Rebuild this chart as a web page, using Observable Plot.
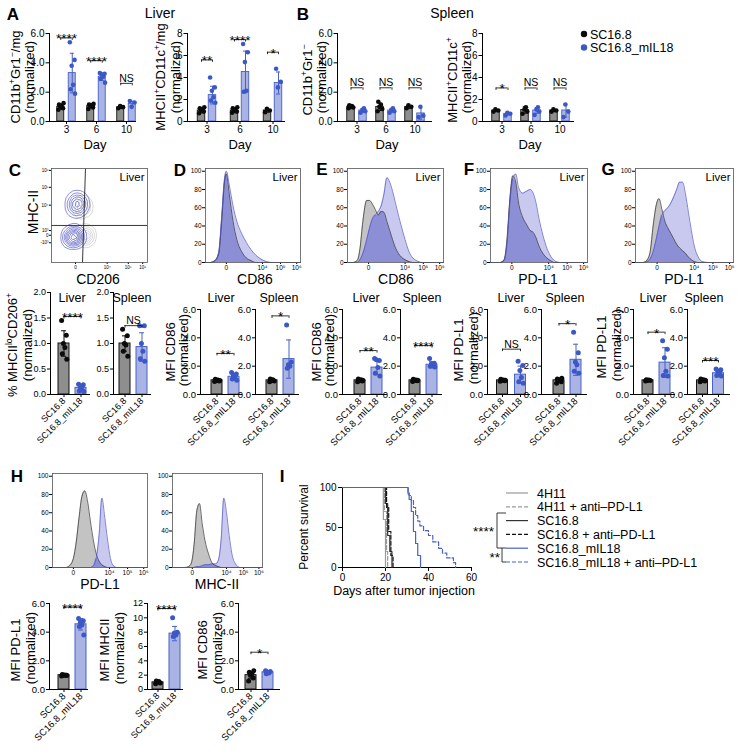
<!DOCTYPE html>
<html>
<head>
<meta charset="utf-8">
<script src="https://cdn.jsdelivr.net/npm/d3@7"></script>
<script src="https://cdn.jsdelivr.net/npm/@observablehq/plot@0.6"></script>
<style>
html,body{margin:0;padding:0;background:#fff;}
#fig{position:relative;width:741px;height:755px;overflow:hidden;background:#fff;font-family:"Liberation Sans",Arial,Helvetica,sans-serif;color:#000;}
#fig .lab{position:absolute;white-space:nowrap;line-height:1;text-align:center;}
#fig sup{font-size:66%;vertical-align:0.55em;line-height:0;}
#fig svg{display:block;max-width:none;}
</style>
</head>
<body>
<div id="fig"></div>
<script>
// ===================== DATA =====================
const groups = ["SC16.8", "SC16.8_mIL18"];
const days = [3, 6, 10];

// A – liver, CD11b+Gr1−/mg (normalized)
const aMyeCtrlMean = [1.0, 1.05, 0.97];
const aMyeCtrlSd = [0.15, 0.12, 0.08];
const aMyeCtrlPts = [[0.8, 0.9, 1.0, 1.05, 1.15, 1.25], [0.85, 0.95, 1.05, 1.1, 1.15, 1.2], [0.9, 0.98, 1.05]];
const aMyeMilMean = [3.3, 3.05, 1.2];
const aMyeMilSd = [1.35, 0.25, 0.18];
const aMyeMilPts = [[5.4, 4.2, 3.8, 2.5, 2.2, 1.9], [3.3, 3.25, 3.2, 3.05, 2.9, 2.65], [1.4, 1.3, 1.0]];
const aMyeSig = ["****", "****", "NS"];
const aMyeSigY = [5.7, 4.15, 2.6];

// A – liver, MHCII+CD11c+/mg (normalized)
const aApcCtrlMean = [1.0, 1.0, 1.0];
const aApcCtrlSd = [0.2, 0.2, 0.15];
const aApcCtrlPts = [[0.75, 0.9, 1.0, 1.1, 1.2, 1.3], [0.8, 0.9, 1.0, 1.1, 1.2, 1.3], [0.85, 1.0, 1.15]];
const aApcMilMean = [2.4, 4.5, 3.5];
const aApcMilSd = [0.8, 1.9, 1.0];
const aApcMilPts = [[4.0, 3.1, 2.8, 2.2, 1.9, 1.7], [7.05, 6.3, 5.4, 2.8, 2.7], [4.8, 3.6, 3.1]];
const aApcSig = ["**", "****", "*"];
const aApcSigY = [5.6, 7.45, 6.3];

// B – spleen, CD11b+Gr1− (normalized)
const bMyeCtrlMean = [1.0, 1.0, 1.0];
const bMyeCtrlSd = [0.1, 0.25, 0.1];
const bMyeCtrlPts = [[0.9, 0.95, 1.0, 1.05, 1.1], [0.7, 0.85, 1.0, 1.15, 1.35], [0.9, 1.0, 1.1]];
const bMyeMilMean = [0.75, 0.75, 0.55];
const bMyeMilSd = [0.12, 0.12, 0.4];
const bMyeMilPts = [[0.6, 0.7, 0.8, 0.9], [0.6, 0.7, 0.8, 0.9], [0.3, 0.4, 1.0]];
const bMyeSig = ["NS", "NS", "NS"];
const bMyeSigY = [2.3, 2.3, 2.3];

// B – spleen, MHCII+CD11c+ (normalized)
const bApcCtrlMean = [1.0, 1.05, 1.0];
const bApcCtrlSd = [0.1, 0.3, 0.1];
const bApcCtrlPts = [[0.9, 1.0, 1.1], [0.7, 0.9, 1.1, 1.3], [0.9, 1.0, 1.1]];
const bApcMilMean = [0.7, 1.0, 1.0];
const bApcMilSd = [0.1, 0.25, 0.6];
const bApcMilPts = [[0.55, 0.7, 0.8], [0.6, 0.9, 1.1, 1.3], [0.4, 0.9, 1.55]];
const bApcSig = ["*", "NS", "NS"];
const bApcSigY = [3.05, 3.05, 3.05];

// C–H two-group bar charts: points, [ctrl, mIL18] means and SDs
const cLiverCtrl = [1.45, 1.16, 1.0, 0.92, 0.8, 0.69];
const cLiverMil = [0.2, 0.19, 0.13, 0.1, 0.07, 0.06];
const cLiverMean = [1.0, 0.13], cLiverSd = [0.25, 0.05];
const cSpleenCtrl = [1.28, 1.15, 1.0, 0.97, 0.85, 0.75];
const cSpleenMil = [1.35, 1.35, 1.0, 0.85, 0.7, 0.65];
const cSpleenMean = [1.0, 0.93], cSpleenSd = [0.15, 0.28];

const dLiverCtrl = [0.92, 0.96, 1.0, 1.03, 1.08, 0.98];
const dLiverMil = [1.55, 1.45, 1.3, 1.2, 1.1, 1.0];
const dLiverMean = [1.0, 1.25], dLiverSd = [0.06, 0.2];
const dSpleenCtrl = [0.9, 0.95, 1.0, 1.05, 1.1];
const dSpleenMil = [4.9, 2.3, 2.1, 2.0, 1.85];
const dSpleenMean = [1.0, 2.5], dSpleenSd = [0.07, 1.35];

const eLiverCtrl = [0.9, 0.95, 1.0, 1.05, 1.1, 1.0];
const eLiverMil = [2.55, 2.4, 2.45, 1.9, 1.5, 1.3];
const eLiverMean = [1.0, 1.9], eLiverSd = [0.07, 0.5];
const eSpleenCtrl = [0.92, 0.97, 1.0, 1.03, 1.08, 1.0];
const eSpleenMil = [2.55, 2.2, 2.15, 2.05, 2.0, 1.95];
const eSpleenMean = [1.0, 2.1], eSpleenSd = [0.06, 0.22];

const fLiverCtrl = [0.93, 0.97, 1.0, 1.03, 1.07, 1.0];
const fLiverMil = [2.35, 2.05, 1.7, 1.2, 0.9, 0.8];
const fLiverMean = [1.0, 1.4], fLiverSd = [0.06, 0.6];
const fSpleenCtrl = [0.8, 0.9, 1.0, 1.05, 1.1, 1.15];
const fSpleenMil = [4.4, 2.95, 2.3, 2.1, 1.65, 1.5];
const fSpleenMean = [1.0, 2.45], fSpleenSd = [0.12, 1.1];

const gLiverCtrl = [0.95, 0.98, 1.0, 1.02, 1.05];
const gLiverMil = [3.8, 3.2, 2.6, 1.65, 1.35, 1.3];
const gLiverMean = [1.0, 2.25], gLiverSd = [0.04, 1.05];
const gSpleenCtrl = [0.9, 0.95, 1.0, 1.05, 1.1, 1.0];
const gSpleenMil = [1.8, 1.75, 1.65, 1.5, 1.35, 1.3];
const gSpleenMean = [1.0, 1.5], gSpleenSd = [0.07, 0.17];

const hPdl1Ctrl = [0.95, 0.98, 1.0, 1.02, 1.05, 1.0];
const hPdl1Mil = [4.95, 4.8, 4.7, 4.5, 4.4, 3.8];
const hPdl1Mean = [1.0, 4.55], hPdl1Sd = [0.04, 0.4];
const hMhcCtrl = [0.8, 0.9, 1.0, 1.1, 1.2];
const hMhcMil = [10.0, 8.0, 7.9, 7.6, 7.4];
const hMhcMean = [1.0, 7.8], hMhcSd = [0.15, 1.0];
const hCd86Ctrl = [0.6, 0.8, 1.0, 1.1, 1.2, 1.3];
const hCd86Mil = [1.3, 1.25, 1.2, 1.15, 1.1];
const hCd86Mean = [1.0, 1.2], hCd86Sd = [0.22, 0.08];

// Flow histograms (% of max) on display channel position 0–100
const flowTickPos = [22, 60, 79, 96];
const flowTickLab = ["0", "10\u2074", "10\u2075", "10\u2076"];
const histYTicks = [0, 20, 40, 60, 80, 100];

const dHistX = [0, 5, 10, 14, 17, 20, 22, 25, 29, 33, 38, 43, 48, 53, 58, 64, 70, 80, 100];
const dHistCtrl = [0, 0, 2, 10, 45, 88, 97, 75, 45, 25, 12, 5, 2, 0, 0, 0, 0, 0, 0];
const dHistMil = [0, 0, 2, 12, 50, 92, 100, 85, 62, 45, 32, 22, 14, 8, 4, 1, 0, 0, 0];

const eHistX = [0, 5, 10, 13, 16, 20, 23, 26, 29, 32, 35, 38, 41, 44, 47, 50, 53, 56, 60, 64, 68, 72, 78, 100];
const eHistCtrl = [0, 0, 2, 15, 45, 68, 68, 64, 58, 52, 56, 55, 45, 35, 25, 16, 10, 6, 3, 1, 0, 0, 0, 0];
const eHistMil = [0, 0, 0, 3, 10, 25, 38, 48, 52, 56, 62, 75, 93, 88, 78, 65, 52, 40, 25, 12, 5, 2, 0, 0];

const fHistX = [0, 10, 14, 17, 20, 23, 26, 29, 33, 37, 41, 44, 47, 50, 54, 58, 62, 66, 72, 100];
const fHistCtrl = [0, 0, 3, 25, 70, 95, 88, 65, 50, 42, 35, 33, 27, 18, 10, 5, 2, 0, 0, 0];
const fHistMil = [0, 0, 2, 20, 65, 92, 97, 82, 76, 78, 80, 76, 65, 48, 30, 16, 7, 2, 0, 0];

const gHistX = [0, 8, 12, 15, 18, 21, 24, 27, 30, 33, 36, 39, 42, 45, 48, 51, 54, 57, 60, 64, 68, 74, 100];
const gHistCtrl = [0, 0, 3, 12, 40, 62, 70, 58, 45, 38, 32, 26, 20, 16, 13, 10, 6, 3, 1, 0, 0, 0, 0];
const gHistMil = [0, 0, 1, 4, 12, 25, 40, 52, 57, 60, 65, 72, 80, 88, 88, 75, 55, 35, 18, 6, 1, 0, 0];

const hPdl1HistX = [0, 14, 18, 22, 25, 28, 31, 34, 37, 40, 43, 46, 49, 52, 55, 58, 61, 64, 68, 100];
const hPdl1HistCtrl = [0, 0, 2, 10, 28, 55, 78, 84, 72, 50, 30, 15, 7, 3, 1, 0, 0, 0, 0, 0];
const hPdl1HistMil = [0, 0, 0, 0, 0, 0, 0, 0, 0, 0, 2, 10, 35, 76, 55, 30, 10, 2, 0, 0];

const hMhcHistX = [0, 14, 18, 21, 24, 27, 30, 33, 36, 40, 44, 48, 51, 54, 57, 60, 63, 66, 70, 75, 100];
const hMhcHistCtrl = [0, 0, 1, 5, 25, 62, 70, 48, 30, 15, 5, 2, 1, 0, 0, 0, 0, 0, 0, 0, 0];
const hMhcHistMil = [0, 0, 0, 0, 0, 1, 1, 2, 3, 3, 4, 4, 8, 30, 76, 60, 35, 15, 4, 0, 0];

// C – MHC-II vs CD206 events (display units 0–100)
const cCellsMil = [[23,27],[21,26],[25,28],[22,29],[24,25],[20,27],[26,26],[23,24],[22,31],[24,30],[19,26],[27,29],[23,28],[21,24],[25,31],[23,26],[22,27],[24,27],
  [24,55],[26,58],[25,62],[27,65],[29,62],[24,68],[26,70],[31,60],[28,57],[23,62],[25,52],[33,63],[27,67],[29,66],[24,60],[26,64]];
const cCellsCtrl = [[33,28],[35,30],[37,27],[34,25],[36,32],[31,60],[35,58],[33,64],[30,54]];
const cGateY = 39.4;
const cGateV = [{x1: 32.3, y1: 0, x2: 35.4, y2: 100}];
const cXTickPos = [25, 58, 80, 95];
const cXTickLab = ["0", "10\u2074", "10\u2075", "10\u2076"];
const cYTickPos = [21, 29, 34, 61, 80, 98];
const cYTickLab = ["-10\u00b3", "0", "10\u00b3", "10\u2074", "10\u2075", "10\u2076"];

// I – Kaplan–Meier survival [day, percent]
const kmNames = ["4H11", "4H11 + anti\u2013PD-L1", "SC16.8", "SC16.8 + anti\u2013PD-L1", "SC16.8_mIL18", "SC16.8_mIL18 + anti\u2013PD-L1"];
const km4h11 = [[0, 100], [19, 60], [20, 0]];
const km4h11Anti = [[0, 100], [19.5, 70], [20.5, 20], [21, 0]];
const kmSc168 = [[0, 100], [20, 80], [21, 40], [22, 20], [23, 0]];
const kmSc168Anti = [[0, 100], [20.5, 75], [21.5, 45], [22.5, 15], [23.5, 0]];
const kmMil = [[0, 100], [30.5, 92], [31, 85], [32, 70], [33, 45], [34, 30], [35, 15], [36.3, 0]];
const kmMilAnti = [[0, 100], [30.5, 94], [31, 90], [32, 84], [33, 75], [34, 65], [35, 58], [36, 52], [37.7, 46], [40, 40], [42, 32], [44.7, 24], [46.5, 18], [48.5, 12], [51.6, 6], [52.6, 0]];

// ===================== RENDER =====================
const FONT = '"Liberation Sans", Arial, Helvetica, sans-serif';
const CTRL = {fill: "#8e8e8e", line: "#111111", dot: "#0b0b0b"};
const MIL = {fill: "#a9b3e4", line: "#4862c6", dot: "#3c58c6"};
const JIT = [-2.4, 2.3, -0.6, 0.9, -1.7, 2.8, 0.2, -3.0];
const fig = document.getElementById("fig");

function style(fs) {
  return {fontFamily: FONT, fontSize: fs + "px", background: "transparent", overflow: "visible", color: "#000", maxWidth: "none"};
}
function mount(svg, left, top, w) {
  const d = document.createElement("div");
  d.style.cssText = `position:absolute;left:${left}px;top:${top}px;width:${w}px;`;
  d.appendChild(svg);
  fig.appendChild(d);
}
function lab(html, x, y, size = 13, opt = {}) {
  const d = document.createElement("div");
  d.className = "lab";
  d.innerHTML = html;
  d.style.left = x + "px";
  d.style.top = y + "px";
  d.style.fontSize = size + "px";
  if (opt.bold) d.style.fontWeight = "bold";
  d.style.transform = "translate(-50%,-50%)" + (opt.rot ? " rotate(-90deg)" : "");
  fig.appendChild(d);
}
function errMarks(rows, key, dx, cap, bw, col) {
  const ci = (bw - cap) / 2;
  return [
    Plot.ruleX(rows, {x: key, y1: d => d.mean - d.sd, y2: d => d.mean + d.sd, dx, stroke: col, strokeWidth: 1}),
    Plot.tickY(rows, {x: key, y: d => d.mean + d.sd, dx, insetLeft: ci, insetRight: ci, stroke: col, strokeWidth: 1}),
    Plot.tickY(rows, {x: key, y: d => d.mean - d.sd, dx, insetLeft: ci, insetRight: ci, stroke: col, strokeWidth: 1})
  ];
}
function dotMarks(rows, key, dx, col, r) {
  const ks = [...new Set(rows.map(d => d.k))];
  return ks.map(k => Plot.dot(rows.filter(d => d.k === k), {x: key, y: "v", dx: dx + JIT[k % JIT.length], r, fill: col, stroke: "none"}));
}
function sigMarks(rows, key, dx) {
  const stars = rows.filter(d => d.t !== "NS"), ns = rows.filter(d => d.t === "NS");
  return [
    Plot.text(stars, {x: key, y: "y", text: "t", dx, dy: 5.5, lineAnchor: "bottom", fontSize: 13.5}),
    Plot.text(ns, {x: key, y: "y", text: "t", dx, dy: -1.5, lineAnchor: "bottom", fontSize: 10.5})
  ];
}

function dayChart(c) {
  const mL = 30, mR = 3, mT = 8, mB = 20;
  const left = c.x0 - mL, top = c.yTop - mT;
  const W = mL + (c.xEnd - c.x0) + mR, H = mT + (c.y0 - c.yTop) + mB;
  const start = c.center0 - c.step / 2 - left;
  const range = [start, start + c.step * days.length];
  const ins = (c.step - c.barW) / 2;
  const cb = days.map((day, i) => ({day, mean: c.ctrlMean[i], sd: c.ctrlSd[i]}));
  const mb = days.map((day, i) => ({day, mean: c.milMean[i], sd: c.milSd[i]}));
  const cp = days.flatMap((day, i) => c.ctrlPts[i].map((v, k) => ({day, v, k})));
  const mp = days.flatMap((day, i) => c.milPts[i].map((v, k) => ({day, v, k})));
  const sg = days.map((day, i) => ({day, y: c.sigY[i], t: c.sig[i]}));
  const bi = c.step / 2 - c.off;
  const svg = Plot.plot({
    width: W, height: H, marginLeft: mL, marginRight: mR, marginTop: mT, marginBottom: mB,
    style: style(10),
    x: {type: "band", domain: days, range, padding: 0, label: null, tickSize: 3, tickPadding: 1},
    y: {domain: [0, c.yMax], ticks: c.ticks, label: null, tickSize: 3.5, tickPadding: 1.5, line: true},
    marks: [
      Plot.barY(cb, {x: "day", y: "mean", dx: -c.off, insetLeft: ins, insetRight: ins, fill: CTRL.fill, stroke: CTRL.line, strokeWidth: 0.9}),
      Plot.barY(mb, {x: "day", y: "mean", dx: c.off, insetLeft: ins, insetRight: ins, fill: MIL.fill, stroke: MIL.line, strokeWidth: 0.9}),
      ...errMarks(cb, "day", -c.off, 4, c.step, CTRL.line),
      ...errMarks(mb, "day", c.off, 4, c.step, MIL.line),
      ...dotMarks(cp, "day", -c.off, CTRL.dot, 2.3),
      ...dotMarks(mp, "day", c.off, MIL.dot, 2.3),
      Plot.ruleY([0], {stroke: "#000", strokeWidth: 1}),
      Plot.tickY(sg, {x: "day", y: "y", insetLeft: bi, insetRight: bi, stroke: "#000", strokeWidth: 0.8}),
      Plot.ruleX(sg, {x: "day", y1: "y", y2: "y", dx: -c.off, insetBottom: -2.5, stroke: "#000", strokeWidth: 0.8}),
      Plot.ruleX(sg, {x: "day", y1: "y", y2: "y", dx: c.off, insetBottom: -2.5, stroke: "#000", strokeWidth: 0.8}),
      ...sigMarks(sg, "day", 0)
    ]
  });
  mount(svg, left, top, W);
}

function pairChart(c) {
  const mL = 30, mR = 3, mT = 8, mB = 62;
  const left = c.x0 - mL, top = c.yTop - mT;
  const W = mL + (c.xEnd - c.x0) + mR, H = mT + (c.y0 - c.yTop) + mB;
  const s = c.c2 - c.c1;
  const range = [c.c1 - s / 2 - left, c.c2 + s / 2 - left];
  const ins = (s - c.barW) / 2;
  const cb = [{g: groups[0], mean: c.mean[0], sd: c.sd[0]}];
  const mb = [{g: groups[1], mean: c.mean[1], sd: c.sd[1]}];
  const cp = c.ctrl.map((v, k) => ({g: groups[0], v, k}));
  const mp = c.mil.map((v, k) => ({g: groups[1], v, k}));
  const sg = [{g0: groups[0], g1: groups[1], y: c.sigY, t: c.sig}];
  const svg = Plot.plot({
    width: W, height: H, marginLeft: mL, marginRight: mR, marginTop: mT, marginBottom: mB,
    style: style(c.fs || 9.5),
    x: {type: "band", domain: groups, range, padding: 0, label: null, tickSize: 3, tickPadding: 2, tickRotate: -45},
    y: {domain: [0, c.yMax], ticks: c.ticks, tickFormat: c.fmt, label: null, tickSize: 3, tickPadding: 1.5, line: true},
    marks: [
      Plot.barY(cb, {x: "g", y: "mean", insetLeft: ins, insetRight: ins, fill: CTRL.fill, stroke: CTRL.line, strokeWidth: 1}),
      Plot.barY(mb, {x: "g", y: "mean", insetLeft: ins, insetRight: ins, fill: MIL.fill, stroke: MIL.line, strokeWidth: 1}),
      ...errMarks(cb, "g", 0, 5, s, CTRL.line),
      ...errMarks(mb, "g", 0, 5, s, MIL.line),
      ...dotMarks(cp, "g", 0, CTRL.dot, 2.5),
      ...dotMarks(mp, "g", 0, MIL.dot, 2.5),
      Plot.ruleY([0], {stroke: "#000", strokeWidth: 1}),
      Plot.tickY(sg, {x: "g0", y: "y", insetLeft: s / 2, insetRight: 0, stroke: "#000", strokeWidth: 0.8}),
      Plot.tickY(sg, {x: "g1", y: "y", insetLeft: 0, insetRight: s / 2, stroke: "#000", strokeWidth: 0.8}),
      Plot.ruleX(sg, {x: "g0", y1: "y", y2: "y", insetBottom: -2.5, stroke: "#000", strokeWidth: 0.8}),
      Plot.ruleX(sg, {x: "g1", y1: "y", y2: "y", insetBottom: -2.5, stroke: "#000", strokeWidth: 0.8}),
      ...sigMarks(sg, "g1", -s / 2)
    ]
  });
  mount(svg, left, top, W);
}

function histChart(c) {
  const mL = 20, mR = 2, mT = 2, mB = 14;
  const left = c.fx0 - mL, top = c.fy0 - mT;
  const W = mL + (c.fx1 - c.fx0) + mR, H = mT + (c.fy1 - c.fy0) + mB;
  const rows = c.xs.map((x, i) => ({x, a: c.ctrl[i], b: c.mil[i], m: Math.min(c.ctrl[i], c.mil[i])}));
  const curve = "monotone-x";
  const labMap = new Map(flowTickPos.map((p, i) => [p, flowTickLab[i]]));
  const marks = [
    Plot.areaY(rows, {x: "x", y: "a", fill: "#c3c3c3", curve}),
    Plot.areaY(rows, {x: "x", y: "b", fill: "#c9c9ef", curve}),
    Plot.areaY(rows, {x: "x", y: "m", fill: "#8d8fd6", curve}),
    Plot.lineY(rows, {x: "x", y: "a", stroke: "#2b2b2b", strokeWidth: 0.7, curve}),
    Plot.lineY(rows, {x: "x", y: "b", stroke: "#4e52be", strokeWidth: 0.7, curve}),
    Plot.frame({stroke: "#555", strokeWidth: 0.8})
  ];
  if (c.tissue) marks.push(Plot.text([c.tissue], {text: d => d, frameAnchor: "top-right", dx: -3, dy: 4, fontSize: 11.5, lineAnchor: "top"}));
  const svg = Plot.plot({
    width: W, height: H, marginLeft: mL, marginRight: mR, marginTop: mT, marginBottom: mB,
    style: style(6.5),
    x: {domain: [0, 100], ticks: flowTickPos, tickFormat: d => labMap.get(d), label: null, tickSize: 2, tickPadding: 1},
    y: {domain: [0, 103], ticks: histYTicks, label: null, tickSize: 3, tickPadding: 1},
    marks
  });
  mount(svg, left, top, W);
}

function contourChart() {
  const fx0 = 51, fx1 = 147, fy0 = 168, fy1 = 262;
  const mL = 18, mR = 2, mT = 2, mB = 10;
  const left = fx0 - mL, top = fy0 - mT;
  const W = mL + (fx1 - fx0) + mR, H = mT + (fy1 - fy0) + mB;
  const xm = new Map(cXTickPos.map((p, i) => [p, cXTickLab[i]]));
  const ym = new Map(cYTickPos.map((p, i) => [p, cYTickLab[i]]));
  const svg = Plot.plot({
    width: W, height: H, marginLeft: mL, marginRight: mR, marginTop: mT, marginBottom: mB,
    style: style(4.5),
    x: {domain: [0, 100], ticks: cXTickPos, tickFormat: d => xm.get(d), label: null, tickSize: 2, tickPadding: 1},
    y: {domain: [0, 100], ticks: cYTickPos, tickFormat: d => ym.get(d), label: null, tickSize: 2, tickPadding: 1},
    marks: [
      Plot.density(cCellsCtrl, {x: d => d[0], y: d => d[1], bandwidth: 4, thresholds: 6, stroke: "#c0c0c0", strokeWidth: 0.6}),
      Plot.density(cCellsMil, {x: d => d[0], y: d => d[1], bandwidth: 4, thresholds: 9, stroke: "#5f63c8", strokeWidth: 0.7}),
      Plot.ruleY([cGateY], {stroke: "#222", strokeWidth: 0.9}),
      Plot.link(cGateV, {x1: "x1", y1: "y1", x2: "x2", y2: "y2", stroke: "#222", strokeWidth: 0.9}),
      Plot.frame({stroke: "#555", strokeWidth: 0.8}),
      Plot.text(["Liver"], {text: d => d, frameAnchor: "top-right", dx: -3, dy: 4, fontSize: 11.5, lineAnchor: "top"})
    ]
  });
  mount(svg, left, top, W);
}

function kmChart() {
  const x0 = 342, xEnd = 471, y0 = 567, yTop = 487;
  const mL = 28, mR = 6, mT = 4, mB = 18;
  const left = x0 - mL, top = yTop - mT;
  const W = mL + (xEnd - x0) + mR, H = mT + (y0 - yTop) + mB;
  const series = [km4h11, km4h11Anti, kmSc168, kmSc168Anti, kmMil, kmMilAnti];
  const cols = ["#9a9a9a", "#9a9a9a", "#333333", "#111111", "#4a62c4", "#4a62c4"];
  const dash = [null, "4,2", null, "4,2", null, "4,2"];
  const svg = Plot.plot({
    width: W, height: H, marginLeft: mL, marginRight: mR, marginTop: mT, marginBottom: mB,
    style: style(10),
    x: {domain: [0, 60], ticks: [0, 20, 40, 60], label: null, tickSize: 4, tickPadding: 2, line: true},
    y: {domain: [0, 100], ticks: [0, 50, 100], label: null, tickSize: 4, tickPadding: 2, line: true},
    marks: series.map((s, i) => Plot.line(s, {x: d => d[0], y: d => d[1], curve: "step-after", stroke: cols[i], strokeWidth: 1.2, strokeDasharray: dash[i]}))
  });
  mount(svg, left, top, W);
  const ov = d3.select(fig).append("svg").attr("width", 741).attr("height", 755)
    .style("position", "absolute").style("left", "0px").style("top", "0px").style("overflow", "visible");
  kmNames.forEach((n, i) => {
    const y = 493 + i * 13.8;
    ov.append("line").attr("x1", 506).attr("x2", 528).attr("y1", y).attr("y2", y)
      .attr("stroke", cols[i]).attr("stroke-width", 1.2).attr("stroke-dasharray", dash[i]);
    ov.append("text").attr("x", 537).attr("y", y + 4.5).attr("font-family", FONT).attr("font-size", 12.5).text(n);
  });
  ov.append("path").attr("d", "M506,513 H497 V548 H502").attr("fill", "none").attr("stroke", "#222").attr("stroke-width", 0.9);
  ov.append("path").attr("d", "M506,548 H502 V562 H506").attr("fill", "none").attr("stroke", "#222").attr("stroke-width", 0.9);
  ov.append("text").attr("x", 494).attr("y", 536).attr("text-anchor", "end").attr("font-family", FONT).attr("font-size", 13.5).text("****");
  ov.append("text").attr("x", 500).attr("y", 562).attr("text-anchor", "end").attr("font-family", FONT).attr("font-size", 13.5).text("**");
}

// ---------- Row 1: A, B ----------
dayChart({x0: 49, xEnd: 136, y0: 121, yTop: 33, yMax: 6, ticks: [0, 2, 4, 6], center0: 65.75, step: 30, off: 5.75, barW: 7,
  ctrlMean: aMyeCtrlMean, ctrlSd: aMyeCtrlSd, ctrlPts: aMyeCtrlPts, milMean: aMyeMilMean, milSd: aMyeMilSd, milPts: aMyeMilPts, sig: aMyeSig, sigY: aMyeSigY});
dayChart({x0: 187, xEnd: 285, y0: 121, yTop: 33, yMax: 8, ticks: [0, 2, 4, 6, 8], center0: 206.5, step: 33, off: 5.5, barW: 7.5,
  ctrlMean: aApcCtrlMean, ctrlSd: aApcCtrlSd, ctrlPts: aApcCtrlPts, milMean: aApcMilMean, milSd: aApcMilSd, milPts: aApcMilPts, sig: aApcSig, sigY: aApcSigY});
dayChart({x0: 337, xEnd: 432, y0: 121, yTop: 33, yMax: 6, ticks: [0, 2, 4, 6], center0: 356, step: 29.5, off: 6, barW: 8,
  ctrlMean: bMyeCtrlMean, ctrlSd: bMyeCtrlSd, ctrlPts: bMyeCtrlPts, milMean: bMyeMilMean, milSd: bMyeMilSd, milPts: bMyeMilPts, sig: bMyeSig, sigY: bMyeSigY});
dayChart({x0: 482, xEnd: 574, y0: 121, yTop: 33, yMax: 8, ticks: [0, 2, 4, 6, 8], center0: 501, step: 29.5, off: 6, barW: 8,
  ctrlMean: bApcCtrlMean, ctrlSd: bApcCtrlSd, ctrlPts: bApcCtrlPts, milMean: bApcMilMean, milSd: bApcMilSd, milPts: bApcMilPts, sig: bApcSig, sigY: bApcSigY});

// ---------- Row 2: flow plots ----------
contourChart();
histChart({fx0: 205, fx1: 300, fy0: 168, fy1: 262, xs: dHistX, ctrl: dHistCtrl, mil: dHistMil, tissue: "Liver"});
histChart({fx0: 347, fx1: 443, fy0: 168, fy1: 262, xs: eHistX, ctrl: eHistCtrl, mil: eHistMil, tissue: "Liver"});
histChart({fx0: 490, fx1: 587, fy0: 168, fy1: 262, xs: fHistX, ctrl: fHistCtrl, mil: fHistMil, tissue: "Liver"});
histChart({fx0: 635, fx1: 733, fy0: 168, fy1: 262, xs: gHistX, ctrl: gHistCtrl, mil: gHistMil, tissue: "Liver"});

// ---------- Row 3: bar pairs ----------
const f1 = d3.format(".1f");
const six = [0, 2, 4, 6];
pairChart({x0: 50, xEnd: 90, c1: 63, c2: 80, barW: 11, y0: 394, yTop: 292, yMax: 2, ticks: [0, 0.5, 1, 1.5, 2], fmt: f1, fs: 9,
  ctrl: cLiverCtrl, mil: cLiverMil, mean: cLiverMean, sd: cLiverSd, sig: "****", sigY: 1.53});
pairChart({x0: 113, xEnd: 151, c1: 124, c2: 141, barW: 11, y0: 394, yTop: 292, yMax: 2, ticks: [0, 0.5, 1, 1.5, 2], fmt: f1, fs: 9,
  ctrl: cSpleenCtrl, mil: cSpleenMil, mean: cSpleenMean, sd: cSpleenSd, sig: "NS", sigY: 1.35});
pairChart({x0: 200, xEnd: 242, c1: 216, c2: 233, barW: 11, y0: 394, yTop: 309, yMax: 6, ticks: six,
  ctrl: dLiverCtrl, mil: dLiverMil, mean: dLiverMean, sd: dLiverSd, sig: "**", sigY: 2.9});
pairChart({x0: 255, xEnd: 299, c1: 271, c2: 288, barW: 11, y0: 394, yTop: 309, yMax: 6, ticks: six,
  ctrl: dSpleenCtrl, mil: dSpleenMil, mean: dSpleenMean, sd: dSpleenSd, sig: "*", sigY: 5.55});
pairChart({x0: 342, xEnd: 387, c1: 359, c2: 376, barW: 11, y0: 394, yTop: 309, yMax: 6, ticks: six,
  ctrl: eLiverCtrl, mil: eLiverMil, mean: eLiverMean, sd: eLiverSd, sig: "**", sigY: 3.1});
pairChart({x0: 400, xEnd: 442, c1: 414, c2: 431, barW: 11, y0: 394, yTop: 309, yMax: 6, ticks: six,
  ctrl: eSpleenCtrl, mil: eSpleenMil, mean: eSpleenMean, sd: eSpleenSd, sig: "****", sigY: 3.45});
pairChart({x0: 487, xEnd: 530, c1: 502, c2: 520, barW: 11, y0: 394, yTop: 309, yMax: 6, ticks: six,
  ctrl: fLiverCtrl, mil: fLiverMil, mean: fLiverMean, sd: fLiverSd, sig: "NS", sigY: 3.2});
pairChart({x0: 541, xEnd: 587, c1: 558, c2: 575, barW: 11, y0: 394, yTop: 309, yMax: 6, ticks: six,
  ctrl: fSpleenCtrl, mil: fSpleenMil, mean: fSpleenMean, sd: fSpleenSd, sig: "*", sigY: 5.0});
pairChart({x0: 633, xEnd: 675, c1: 647, c2: 664, barW: 11, y0: 394, yTop: 309, yMax: 6, ticks: six,
  ctrl: gLiverCtrl, mil: gLiverMil, mean: gLiverMean, sd: gLiverSd, sig: "*", sigY: 4.4});
pairChart({x0: 687, xEnd: 730, c1: 702, c2: 718, barW: 11, y0: 394, yTop: 309, yMax: 6, ticks: six,
  ctrl: gSpleenCtrl, mil: gSpleenMil, mean: gSpleenMean, sd: gSpleenSd, sig: "***", sigY: 2.4});

// ---------- Row 4: H histograms + I ----------
histChart({fx0: 52, fx1: 147, fy0: 473, fy1: 567, xs: hPdl1HistX, ctrl: hPdl1HistCtrl, mil: hPdl1HistMil});
histChart({fx0: 172, fx1: 262, fy0: 473, fy1: 567, xs: hMhcHistX, ctrl: hMhcHistCtrl, mil: hMhcHistMil});
kmChart();

// ---------- Row 5: H bars ----------
pairChart({x0: 49, xEnd: 88, c1: 63, c2: 80, barW: 11, y0: 689, yTop: 603, yMax: 6, ticks: six,
  ctrl: hPdl1Ctrl, mil: hPdl1Mil, mean: hPdl1Mean, sd: hPdl1Sd, sig: "****", sigY: 5.75});
pairChart({x0: 147, xEnd: 183, c1: 157, c2: 174, barW: 11, y0: 689, yTop: 603, yMax: 12, ticks: [0, 2, 4, 6, 8, 10, 12], fs: 9,
  ctrl: hMhcCtrl, mil: hMhcMil, mean: hMhcMean, sd: hMhcSd, sig: "****", sigY: 11.3});
pairChart({x0: 238, xEnd: 280, c1: 250, c2: 267, barW: 11, y0: 689, yTop: 603, yMax: 6, ticks: six,
  ctrl: hCd86Ctrl, mil: hCd86Mil, mean: hCd86Mean, sd: hCd86Sd, sig: "*", sigY: 2.6});

// ---------- Text ----------
const ov2 = d3.select(fig).append("svg").attr("width", 741).attr("height", 755)
  .style("position", "absolute").style("left", "0px").style("top", "0px");
ov2.append("circle").attr("cx", 584).attr("cy", 34).attr("r", 3.2).attr("fill", CTRL.dot);
ov2.append("text").attr("x", 590).attr("y", 38.5).attr("font-family", FONT).attr("font-size", 12.5).text("SC16.8");
ov2.append("circle").attr("cx", 584).attr("cy", 47.5).attr("r", 3.2).attr("fill", MIL.dot);
ov2.append("text").attr("x", 590).attr("y", 52).attr("font-family", FONT).attr("font-size", 12.5).text("SC16.8_mIL18");

[["A", 13, 14], ["B", 303, 14], ["C", 15, 170], ["D", 180, 170], ["E", 322, 169], ["F", 469, 169], ["G", 608, 169], ["H", 17, 476], ["I", 282, 476]]
  .forEach(([t, x, y]) => lab(t, x, y, 17, {bold: true}));
lab("Liver", 160, 13, 14);
lab("Spleen", 452, 13, 14);
[[95, 144], [240, 144], [387, 144], [530, 144]].forEach(([x, y]) => lab("Day", x, y, 13));

lab("CD11b<sup>+</sup>Gr1<sup>\u2212</sup>/mg", 15, 77, 13, {rot: true});
lab("(normalized)", 29, 77, 13, {rot: true});
lab("MHCII<sup>+</sup>CD11c<sup>+</sup>/mg", 160, 77, 13, {rot: true});
lab("(normalized)", 175, 77, 13, {rot: true});
lab("CD11b<sup>+</sup>Gr1<sup>\u2212</sup>", 307, 80, 13, {rot: true});
lab("(normalized)", 321, 77, 13, {rot: true});
lab("MHCII<sup>+</sup>CD11c<sup>+</sup>", 452, 80, 13, {rot: true});
lab("(normalized)", 466, 77, 13, {rot: true});

lab("MHC-II", 33, 212, 14, {rot: true});
lab("CD206", 98, 279, 14);
lab("CD86", 255, 279, 14);
lab("CD86", 396, 279, 14);
lab("PD-L1", 538, 279, 14);
lab("PD-L1", 684, 279, 14);

[["Liver", 72], ["Spleen", 132], ["Liver", 221], ["Spleen", 279], ["Liver", 366], ["Spleen", 422], ["Liver", 511], ["Spleen", 565], ["Liver", 653], ["Spleen", 704]]
  .forEach(([t, x]) => lab(t, x, 298, 12.5));

lab("% MHCII<sup>lo</sup>CD206<sup>+</sup>", 12, 345, 13, {rot: true});
lab("(normalized)", 27, 345, 13, {rot: true});
lab("MFI CD86", 170, 352, 13, {rot: true});
lab("(normalized)", 183, 350, 13, {rot: true});
lab("MFI CD86", 316, 352, 13, {rot: true});
lab("(normalized)", 329, 350, 13, {rot: true});
lab("MFI PD-L1", 458, 350, 13, {rot: true});
lab("(normalized)", 473, 348, 13, {rot: true});
lab("MFI PD-L1", 601, 347, 13, {rot: true});
lab("(normalized)", 616, 345, 13, {rot: true});

lab("PD-L1", 100, 584, 14);
lab("MHC-II", 217, 584, 14);
lab("Percent survival", 304, 527, 12, {rot: true});
lab("Days after tumor injection", 404, 591, 12.5);

lab("MFI PD-L1", 15, 650, 13, {rot: true});
lab("(normalized)", 30, 648, 13, {rot: true});
lab("MFI MHCII", 104, 650, 13, {rot: true});
lab("(normalized)", 119, 648, 13, {rot: true});
lab("MFI CD86", 202, 650, 13, {rot: true});
lab("(normalized)", 217, 648, 13, {rot: true});
</script>
</body>
</html>
